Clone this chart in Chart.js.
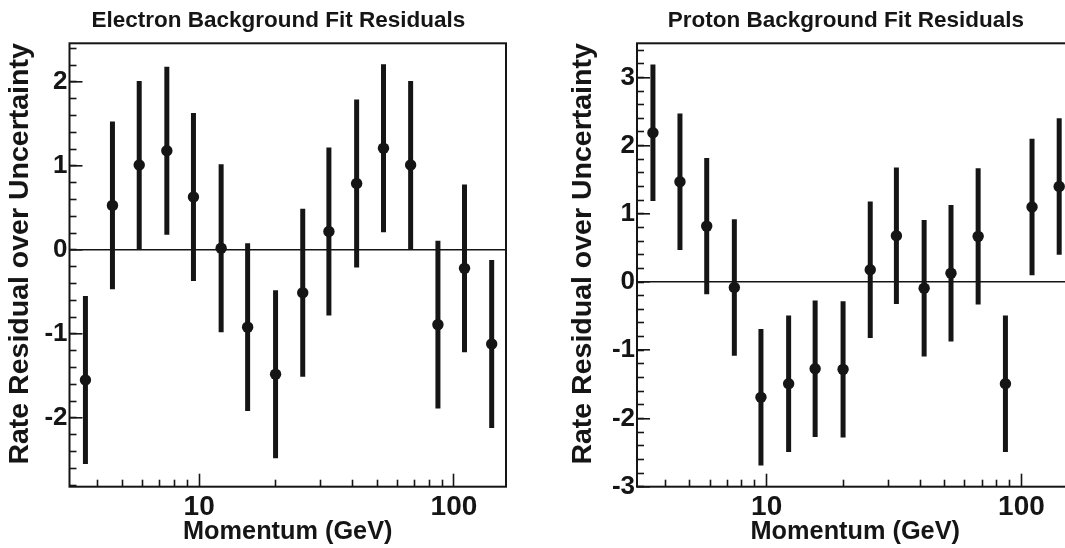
<!DOCTYPE html>
<html>
<head>
<meta charset="utf-8">
<title>Background Fit Residuals</title>
<script src="https://cdn.jsdelivr.net/npm/chart.js@4.4.1/dist/chart.umd.min.js"></script>
<style>
  html, body { margin: 0; padding: 0; background: #fff; overflow: hidden; }
  #wrap { position: relative; width: 1065px; height: 548px; overflow: hidden; background: #fff; }
  canvas { position: absolute; top: 0; }
</style>
</head>
<body>
<div id="wrap">
  <canvas id="electronChart" width="560" height="548" style="left:0px"></canvas>
  <canvas id="protonChart" width="600" height="548" style="left:560px"></canvas>
</div>
<script>
// data
const momentum = [3.58, 4.57, 5.82, 7.47, 9.5, 12.2, 15.5, 19.95, 25.5, 32.3, 41.5, 52.9, 67.6, 86.5, 110, 140.6];
const electronResidual = [-1.55, 0.53, 1.01, 1.18, 0.63, 0.02, -0.92, -1.48, -0.51, 0.22, 0.79, 1.21, 1.01, -0.89, -0.22, -1.12];
const protonResidual = [2.19, 1.47, 0.82, -0.08, -1.69, -1.49, -1.27, -1.28, 0.18, 0.68, -0.09, 0.13, 0.67, -1.49, 1.10, 1.40];
const barHalfWidth = 1; // residual over uncertainty -> every bar is +-1

const xMajorTicks = [10, 100];
const xMinorTicks = [4, 5, 6, 7, 8, 9, 20, 30, 40, 50, 60, 70, 80, 90];
const electronYTicks = [-2, -1, 0, 1, 2];
const protonYTicks = [-3, -2, -1, 0, 1, 2, 3];

const INK = '#151515';
const FONT = "'Liberation Sans', Arial, Helvetica, sans-serif";

function fifths(lo, hi) {
  let out = [];
  for (let k = Math.ceil(lo * 5 - 1e-9); k <= Math.floor(hi * 5 + 1e-9); k++) out.push(k / 5);
  return out;
}

const frame = {
  id: 'frame',
  afterDatasetsDraw(chart) {
    const a = chart.chartArea, c = chart.ctx;
    c.save();
    c.strokeStyle = INK;
    c.lineWidth = 2;
    c.strokeRect(a.left, a.top, a.right - a.left, a.bottom - a.top);
    c.restore();
  }
};

function drawPanel(id, cfg) {
  let ctx = document.getElementById(id).getContext('2d');
  let bars = [];
  let dots = [];
  cfg.values.forEach((v, i) => {
    bars.push({x: momentum[i], y: v - barHalfWidth});
    bars.push({x: momentum[i], y: v + barHalfWidth});
    bars.push({x: momentum[i], y: null});
    dots.push({x: momentum[i], y: v});
  });
  return new Chart(ctx, {
    type: 'line',
    data: {
      datasets: [{
        data: dots,
        showLine: false,
        pointRadius: 5.7,
        pointBackgroundColor: INK,
        pointBorderWidth: 0,
      }, {
        data: bars,
        borderColor: INK,
        borderWidth: 5,
        borderCapStyle: 'butt',
        pointRadius: 0,
        spanGaps: false,
        tension: 0,
      }]
    },
    options: {
      responsive: false,
      animation: false,
      devicePixelRatio: 1,
      events: [],
      layout: { padding: { left: 0, right: cfg.padRight, top: 0, bottom: 0 } },
      plugins: {
        legend: { display: false },
        tooltip: { enabled: false },
        title: {
          display: true,
          fullSize: false,
          // trailing spaces nudge the centred title a little left of the plot centre
          text: cfg.title + '   ',
          color: INK,
          font: { family: FONT, size: 22.5, weight: 'bold', lineHeight: 1.2 },
          padding: { top: 7.7, bottom: 8.6 }
        }
      },
      scales: {
        xm: {
          type: 'logarithmic', position: 'bottom', weight: 0,
          min: 3.1, max: cfg.xMax,
          afterBuildTicks: s => { s.ticks = xMinorTicks.map(v => ({value: v})); },
          afterFit: s => { s.height = 0; },
          ticks: { display: false },
          grid: { drawOnChartArea: false, tickLength: -7, tickColor: INK, tickWidth: 1.6 },
          border: { display: false }
        },
        x: {
          type: 'logarithmic', position: 'bottom', weight: 5,
          min: 3.1, max: cfg.xMax,
          afterBuildTicks: s => { s.ticks = xMajorTicks.map(v => ({value: v})); },
          afterFit: s => { s.height = 61.3; },
          ticks: {
            autoSkip: false, maxRotation: 0, color: INK, padding: 20,
            font: { family: FONT, size: 28, weight: 'bold', lineHeight: 1 },
            callback: v => String(v)
          },
          grid: { drawOnChartArea: false, tickLength: -13, tickColor: INK, tickWidth: 1.6 },
          border: { display: false },
          title: {
            display: true, text: 'Momentum (GeV)', color: INK,
            font: { family: FONT, size: 25.3, weight: 'bold', lineHeight: 1 },
            padding: { top: 0, bottom: 3 }
          }
        },
        ym: {
          type: 'linear', position: 'left', weight: 0,
          min: cfg.yMin, max: cfg.yMax,
          afterBuildTicks: s => { s.ticks = fifths(cfg.yMin, cfg.yMax).map(v => ({value: v})); },
          afterFit: s => { s.width = 0; },
          ticks: { display: false },
          grid: { drawOnChartArea: false, tickLength: -7, tickColor: INK, tickWidth: 1.6 },
          border: { display: false }
        },
        y: {
          type: 'linear', position: 'left', weight: 5,
          min: cfg.yMin, max: cfg.yMax,
          afterBuildTicks: s => { s.ticks = cfg.yTicks.map(v => ({value: v})); },
          afterFit: s => { s.width = cfg.yAxisWidth; },
          ticks: {
            autoSkip: false, color: INK, padding: 15,
            font: { family: FONT, size: 26, weight: 'bold', lineHeight: 1 },
            callback: v => String(v)
          },
          grid: {
            drawOnChartArea: true,
            color: c => (c.tick && c.tick.value === 0) ? INK : 'rgba(0,0,0,0)',
            lineWidth: 1.6,
            tickLength: -13, tickColor: INK, tickWidth: 1.6
          },
          border: { display: false },
          title: {
            display: true, text: '\u2002 Rate Residual over Uncertainty', color: INK,
            font: { family: FONT, size: 28.5, weight: 'bold', lineHeight: 1 },
            padding: { top: cfg.yTitlePad, bottom: 0 }
          }
        }
      }
    },
    plugins: [frame]
  });
}

drawPanel('electronChart', {
  title: 'Electron Background Fit Residuals',
  values: electronResidual,
  yTicks: electronYTicks,
  yMin: -2.82, yMax: 2.46,
  xMax: 160,
  padRight: 54,
  yAxisWidth: 69.5,
  yTitlePad: 5.75
});

drawPanel('protonChart', {
  title: 'Proton Background Fit Residuals',
  values: protonResidual,
  yTicks: protonYTicks,
  yMin: -3.0, yMax: 3.5,
  xMax: 160,
  padRight: 86.5,
  yAxisWidth: 77,
  yTitlePad: 9.25
});
</script>
</body>
</html>
